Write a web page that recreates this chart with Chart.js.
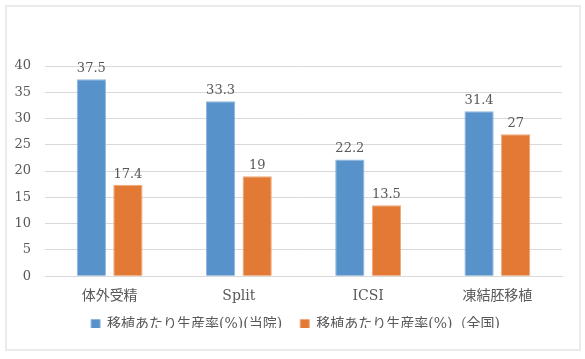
<!DOCTYPE html>
<html>
<head>
<meta charset="utf-8">
<script src="https://cdn.jsdelivr.net/npm/chart.js@4/dist/chart.umd.min.js"></script>
<style>
  html, body { margin: 0; padding: 0; background: #fff; }
  #wrap { position: relative; width: 585px; height: 359px; }
  #frame {
    position: absolute; left: 5px; top: 5px; width: 572px; height: 342px;
    border: 2px solid #ebebeb; pointer-events: none;
  }
  canvas { position: absolute; left: 0; top: 0; }
</style>
</head>
<body>
<div id="wrap">
  <canvas id="chart" width="585" height="359"></canvas>
  <div id="frame"></div>
</div>
<script>
"use strict";

// ── Data ──
const categories = ["体外受精", "Split", "ICSI", "凍結胚移植"];
const ownRates   = [37.5, 33.3, 22.2, 31.4];
const natRates   = [17.4, 19, 13.5, 27];
const seriesNames = ["移植あたり生産率(%)(当院)", "移植あたり生産率(%)（全国)"];

const FONT = "'DejaVu Serif', 'Liberation Serif', 'Noto Sans CJK JP', serif";
const TEXT = "#595959";
const LEGEND_PAD = 18;

// ── Value labels above bars ──
const valueLabels = {
  id: "valueLabels",
  afterDatasetsDraw(chart) {
    const ctx = chart.ctx;
    ctx.save();
    ctx.font = `13px ${FONT}`;
    ctx.fillStyle = TEXT;
    ctx.textAlign = "center";
    ctx.textBaseline = "bottom";
    chart.data.datasets.forEach((ds, i) => {
      chart.getDatasetMeta(i).data.forEach((bar, j) => {
        ctx.fillText(String(ds.data[j]), bar.x, bar.y - 4);
      });
    });
    ctx.restore();
  },
};

// ── Wider gap between legend items, legend kept compact and nudged ──
const legendTrim = {
  id: "legendTrim",
  beforeInit(chart) {
    const lg = chart.legend;
    if (!lg) return;
    const fit = lg.fit.bind(lg);
    lg.fit = function () {
      fit();
      this.height -= LEGEND_PAD - 5;
    };
  },
  afterLayout(chart) {
    const lg = chart.legend;
    if (!lg) return;
    lg.left += 13;  lg.right += 13;
    lg.top -= 10;   lg.bottom -= 10;
  },
};

new Chart(document.getElementById("chart").getContext("2d"), {
  type: "bar",
  data: {
    labels: categories,
    datasets: [
      {
        label: seriesNames[0],
        data: ownRates,
        backgroundColor: "#5792ca",
        borderColor: "#8fb6de",
        borderWidth: 1,
      },
      {
        label: seriesNames[1],
        data: natRates,
        backgroundColor: "#e27934",
        borderColor: "#f0a878",
        borderWidth: 1,
      },
    ],
  },
  options: {
    responsive: false,
    animation: false,
    categoryPercentage: 0.566,
    barPercentage: 0.8,
    layout: { padding: { top: 66, left: 3, right: 23, bottom: 21 } },
    plugins: {
      legend: {
        position: "bottom",
        labels: {
          color: TEXT,
          font: { family: FONT, size: 14 },
          boxWidth: 9,
          boxHeight: 9,
          padding: LEGEND_PAD,
        },
      },
      tooltip: { enabled: false },
    },
    scales: {
      x: {
        grid: { display: false },
        border: { color: "#d9d9d9" },
        ticks: { color: TEXT, font: { family: FONT, size: 14 }, padding: 4 },
      },
      y: {
        min: 0,
        max: 40,
        afterFit: s => { s.width = 42; },
        ticks: { stepSize: 5, color: TEXT, font: { family: FONT, size: 13 }, padding: 14 },
        grid: { color: "#d9d9d9", drawTicks: false },
        border: { display: false },
      },
    },
  },
  plugins: [valueLabels, legendTrim],
});
</script>
</body>
</html>
